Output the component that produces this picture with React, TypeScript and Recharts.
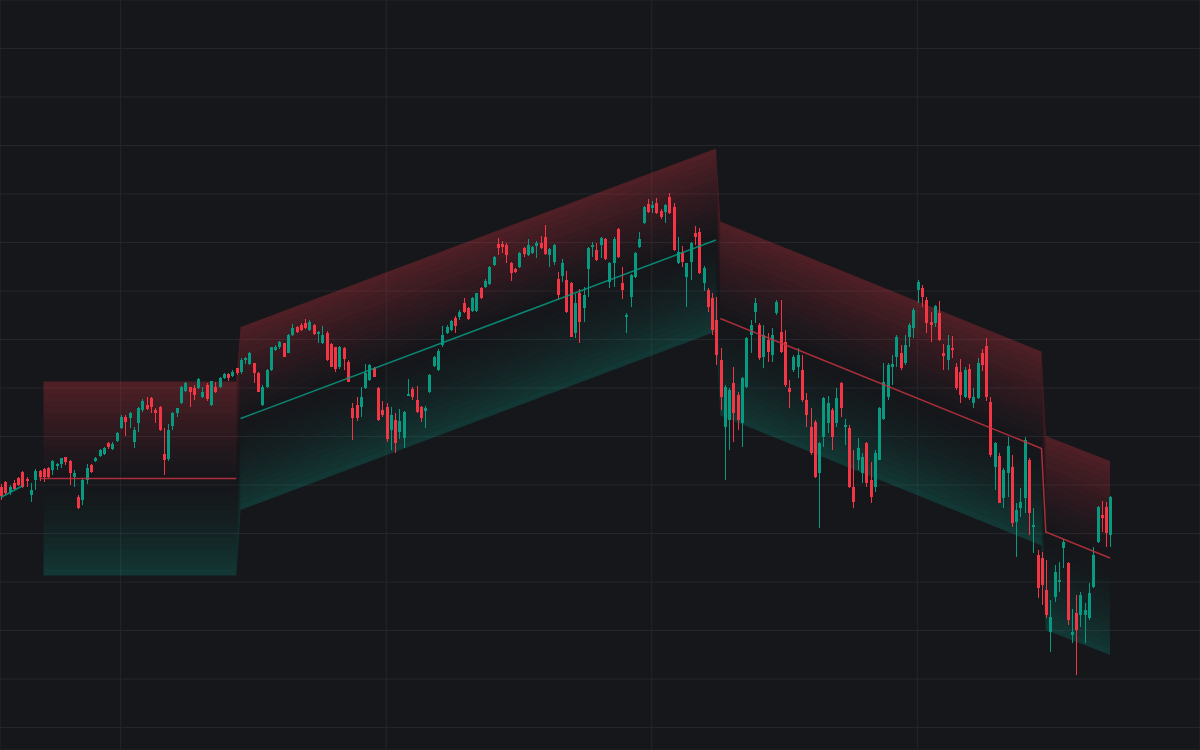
import React from 'react';
import { ComposedChart, Bar, Area, Line, XAxis, YAxis, CartesianGrid } from 'recharts';

// daily OHLC, one entry per bar (index 0 = left edge)
const opens = [
  4526, 4536, 4516, 4534, 4544, 4556, 4542, 4510, 4540, 4558,
  4562, 4564, 4560, 4568, 4572, 4586, 4578, 4546, 4506, 4500,
  4540, 4570, 4578, 4588, 4592, 4614, 4602, 4618, 4644, 4666,
  4664, 4616, 4654, 4680, 4690, 4704, 4680, 4686, 4592, 4582,
  4648, 4674, 4694, 4718, 4726, 4724, 4724, 4706, 4730, 4690,
  4726, 4726, 4744, 4752, 4748, 4764, 4756, 4780, 4772, 4774,
  4754, 4690, 4726, 4760, 4800, 4806, 4814, 4794, 4830, 4846,
  4850, 4854, 4840, 4850, 4832, 4814, 4834, 4812, 4806, 4766,
  4804, 4776, 4684, 4690, 4686, 4724, 4740, 4764, 4724, 4680,
  4686, 4640, 4660, 4636, 4624, 4708, 4722, 4700, 4686, 4678,
  4716, 4768, 4760, 4810, 4834, 4840, 4864, 4866, 4894, 4884,
  4878, 4878, 4924, 4926, 4932, 4970, 5012, 5012, 5010, 4974,
  4962, 4966, 5004, 4990, 4994, 5008, 5014, 5026, 4990, 4976,
  4942, 4948, 4940, 4934, 4834, 4914, 4884, 4962, 5006, 5000,
  5010, 5022, 4936, 4974, 5042, 4934, 4866, 4906, 4946, 5006,
  5054, 5092, 5084, 5094, 5078, 5076, 5106, 5086, 4974, 4996,
  4946, 4976, 5034, 5036, 4934, 4920, 4904, 4860, 4780, 4646,
  4660, 4734, 4710, 4654, 4726, 4830, 4876, 4850, 4786, 4820,
  4790, 4874, 4836, 4816, 4724, 4760, 4766, 4760, 4700, 4646,
  4656, 4554, 4626, 4654, 4680, 4654, 4734, 4646, 4644, 4526,
  4580, 4554, 4614, 4540, 4526, 4580, 4662, 4706, 4766, 4786,
  4794, 4774, 4826, 4844, 4920, 4924, 4900, 4856, 4854, 4874,
  4794, 4780, 4804, 4766, 4756, 4706, 4762, 4694, 4704, 4794,
  4808, 4696, 4566, 4588, 4504, 4554, 4566, 4456, 4484, 4504,
  4580, 4446, 4390, 4384, 4320, 4236, 4306, 4336, 4404, 4374,
  4230, 4274, 4270, 4270, 4264, 4326, 4416, 4470, 4486, 4430,
];

const highs = [
  4532, 4538, 4530, 4540, 4546, 4558, 4546, 4534, 4562, 4560,
  4564, 4566, 4580, 4574, 4584, 4586, 4580, 4560, 4510, 4544,
  4572, 4572, 4586, 4602, 4606, 4616, 4616, 4636, 4670, 4670,
  4676, 4646, 4686, 4702, 4706, 4706, 4684, 4688, 4644, 4652,
  4676, 4684, 4728, 4736, 4726, 4730, 4744, 4726, 4734, 4738,
  4736, 4746, 4754, 4754, 4760, 4764, 4784, 4786, 4796, 4774,
  4756, 4730, 4762, 4806, 4810, 4818, 4814, 4832, 4852, 4848,
  4854, 4862, 4860, 4852, 4838, 4848, 4838, 4814, 4806, 4808,
  4806, 4780, 4694, 4706, 4726, 4772, 4772, 4766, 4726, 4698,
  4694, 4686, 4674, 4682, 4678, 4742, 4726, 4728, 4688, 4688,
  4752, 4788, 4802, 4848, 4850, 4860, 4868, 4880, 4904, 4886,
  4906, 4914, 4926, 4942, 4968, 4988, 5024, 5018, 5014, 4976,
  4964, 4996, 5006, 5022, 5008, 5018, 5028, 5050, 5004, 5012,
  4956, 4982, 4958, 4936, 4912, 4922, 4926, 5006, 5016, 5014,
  5026, 5024, 4976, 5026, 5044, 4966, 4874, 4952, 4996, 5036,
  5088, 5102, 5098, 5104, 5082, 5092, 5114, 5094, 5026, 5008,
  4974, 5016, 5048, 5044, 4968, 4924, 4914, 4906, 4804, 4730,
  4724, 4766, 4716, 4746, 4826, 4860, 4904, 4854, 4850, 4834,
  4844, 4900, 4900, 4840, 4740, 4790, 4804, 4790, 4714, 4684,
  4660, 4616, 4706, 4708, 4684, 4724, 4736, 4662, 4650, 4600,
  4624, 4594, 4616, 4576, 4600, 4686, 4774, 4774, 4790, 4830,
  4810, 4830, 4854, 4884, 4940, 4930, 4906, 4876, 4890, 4898,
  4812, 4830, 4828, 4774, 4782, 4766, 4772, 4724, 4784, 4802,
  4824, 4706, 4616, 4594, 4564, 4626, 4590, 4494, 4524, 4626,
  4584, 4484, 4400, 4396, 4380, 4300, 4370, 4376, 4422, 4376,
  4282, 4310, 4316, 4294, 4334, 4406, 4488, 4498, 4496, 4508,
];

const lows = [
  4500, 4510, 4510, 4520, 4528, 4524, 4526, 4496, 4520, 4538,
  4536, 4544, 4550, 4560, 4564, 4570, 4530, 4526, 4482, 4490,
  4532, 4554, 4576, 4586, 4590, 4602, 4600, 4616, 4642, 4628,
  4644, 4604, 4636, 4676, 4680, 4674, 4654, 4638, 4550, 4578,
  4640, 4666, 4692, 4716, 4686, 4700, 4722, 4704, 4698, 4688,
  4714, 4724, 4742, 4738, 4746, 4750, 4752, 4772, 4770, 4734,
  4716, 4688, 4724, 4758, 4798, 4802, 4786, 4794, 4828, 4834,
  4838, 4842, 4838, 4830, 4814, 4812, 4778, 4766, 4756, 4762,
  4760, 4736, 4620, 4658, 4666, 4722, 4738, 4746, 4658, 4666,
  4616, 4600, 4594, 4622, 4604, 4708, 4700, 4674, 4656, 4644,
  4714, 4766, 4758, 4806, 4832, 4838, 4834, 4860, 4874, 4860,
  4876, 4876, 4902, 4924, 4930, 4968, 4990, 4994, 4974, 4938,
  4954, 4964, 4986, 4988, 4992, 4984, 5002, 4990, 4966, 4970,
  4900, 4936, 4874, 4826, 4824, 4814, 4856, 4906, 4986, 4978,
  4984, 4980, 4924, 4926, 4984, 4902, 4834, 4886, 4944, 5004,
  5052, 5074, 5074, 5072, 5062, 5054, 5072, 4998, 4972, 4966,
  4886, 4940, 5010, 4952, 4918, 4876, 4830, 4770, 4680, 4540,
  4600, 4616, 4640, 4606, 4724, 4794, 4854, 4780, 4764, 4776,
  4776, 4870, 4794, 4726, 4684, 4756, 4744, 4696, 4646, 4590,
  4544, 4444, 4606, 4634, 4600, 4646, 4666, 4610, 4524, 4484,
  4560, 4534, 4526, 4494, 4516, 4580, 4660, 4700, 4730, 4766,
  4760, 4770, 4806, 4824, 4894, 4886, 4834, 4816, 4846, 4818,
  4760, 4760, 4784, 4720, 4694, 4704, 4700, 4684, 4702, 4758,
  4698, 4586, 4520, 4494, 4484, 4506, 4446, 4386, 4466, 4474,
  4430, 4394, 4304, 4290, 4264, 4196, 4296, 4316, 4364, 4250,
  4214, 4150, 4246, 4214, 4260, 4324, 4414, 4436, 4406, 4406,
];

const closes = [
  4508, 4514, 4526, 4522, 4530, 4526, 4538, 4520, 4558, 4546,
  4546, 4546, 4578, 4572, 4584, 4576, 4554, 4554, 4484, 4540,
  4564, 4556, 4584, 4600, 4604, 4606, 4612, 4634, 4666, 4656,
  4674, 4640, 4684, 4698, 4682, 4686, 4674, 4640, 4580, 4640,
  4674, 4684, 4726, 4734, 4716, 4710, 4742, 4716, 4702, 4738,
  4716, 4744, 4752, 4744, 4756, 4754, 4780, 4784, 4794, 4754,
  4716, 4726, 4760, 4806, 4806, 4816, 4786, 4830, 4844, 4836,
  4840, 4844, 4856, 4832, 4836, 4830, 4780, 4766, 4762, 4806,
  4782, 4736, 4664, 4664, 4706, 4754, 4770, 4746, 4660, 4670,
  4622, 4670, 4614, 4658, 4676, 4712, 4706, 4676, 4664, 4684,
  4750, 4786, 4798, 4830, 4846, 4858, 4848, 4876, 4876, 4862,
  4904, 4914, 4904, 4938, 4966, 4986, 5004, 5006, 4990, 4954,
  4956, 4994, 4992, 5010, 5006, 5014, 5004, 4992, 5002, 5010,
  4910, 4974, 4876, 4826, 4894, 4856, 4910, 5004, 5010, 4980,
  5024, 4982, 4974, 5022, 4986, 4920, 4870, 4950, 4994, 5022,
  5086, 5076, 5090, 5074, 5066, 5090, 5074, 5000, 4996, 4976,
  4974, 5014, 5026, 4954, 4964, 4886, 4840, 4790, 4706, 4726,
  4720, 4674, 4660, 4744, 4824, 4850, 4894, 4784, 4830, 4796,
  4830, 4896, 4796, 4730, 4716, 4786, 4790, 4700, 4670, 4594,
  4546, 4614, 4704, 4694, 4626, 4704, 4684, 4650, 4526, 4496,
  4604, 4586, 4534, 4506, 4594, 4684, 4736, 4770, 4772, 4826,
  4764, 4810, 4850, 4880, 4936, 4906, 4854, 4850, 4888, 4820,
  4788, 4810, 4800, 4724, 4710, 4760, 4704, 4706, 4774, 4770,
  4706, 4590, 4614, 4494, 4560, 4608, 4454, 4480, 4496, 4620,
  4474, 4450, 4324, 4330, 4270, 4266, 4356, 4340, 4416, 4260,
  4236, 4240, 4310, 4280, 4314, 4390, 4486, 4464, 4434, 4506,
];

// regression channels: break points (bar index) with upper / lower band prices
const channelBars = [10, 55, 56, 167, 168, 243, 244, 259];
const channelUpper = [4737, 4737, 4846, 5203, 5057, 4797, 4628, 4578];
const channelLower = [4349, 4349, 4480, 4837, 4669, 4409, 4240, 4190];

// channel middle lines
const leadBars = [0, 5];
const leadMid = [4505, 4528];
const flatBars = [9, 55];
const flatMid = [4543, 4543];
const riseBars = [56, 167];
const riseMid = [4663, 5020];
const fallBars = [168, 243, 244, 259];
const fallMid = [4863, 4603, 4436, 4384];

const priceTicks = [5403, 5306, 5209, 5112, 5015, 4918, 4821, 4724, 4627, 4530, 4433, 4336, 4239, 4142, 4045];
const quarterTicks = [28, 90, 152, 214];

const UP = '#089981';
const DOWN = '#f23645';
const MID_DOWN = '#c4323e';
const BG = '#16171b';

const candles = opens.map((open, i) => ({
  i,
  open,
  high: highs[i],
  low: lows[i],
  close: closes[i],
  range: [lows[i], highs[i]],
}));

const channel = channelBars.map((i, k) => ({ i, upper: channelUpper[k], lower: channelLower[k] }));

const toLine = (bars: number[], values: number[]) => bars.map((i, k) => ({ i, v: values[k] }));

// the channel fill is split into thin bands to fake a gradient that follows the slope
const BANDS = 30;
const bands = Array.from({ length: BANDS }, (_, k) => {
  const t0 = k / BANDS;
  const t1 = (k + 1) / BANDS;
  const t = (k + 0.5) / BANDS;
  const top = t < 0.5;
  const opacity = top ? 0.27 * Math.pow(1 - t / 0.5, 1.2) : 0.26 * Math.pow((t - 0.5) / 0.5, 1.6);
  return { k, t0, t1, fill: top ? DOWN : UP, opacity };
});

const Candle = (props: any) => {
  const { x, y, width, height, payload } = props;
  if (!payload || height == null) return null;
  const { open, close, high, low } = payload;
  const color = close >= open ? UP : DOWN;
  const k = high > low ? height / (high - low) : 0;
  const bodyTop = y + (high - Math.max(open, close)) * k;
  const bodyH = Math.max(1, Math.abs(open - close) * k);
  const c = Math.round(x + width / 2);
  return (
    <g>
      <line x1={c + 0.5} x2={c + 0.5} y1={y} y2={y + height} stroke={color} strokeWidth={1} />
      <rect x={c - 1} y={bodyTop} width={3} height={bodyH} fill={color} />
    </g>
  );
};

export default function App() {
  return (
    <div style={{ position: 'fixed', left: 0, top: 0, width: 1200, height: 750, background: BG }}>
      <ComposedChart width={1200} height={750} data={candles} margin={{ top: 0, right: 0, bottom: 0, left: 0 }}>
        <CartesianGrid stroke="#25262b" strokeWidth={1} />
        <XAxis dataKey="i" type="number" domain={[-0.163, 280]} ticks={quarterTicks} allowDataOverflow hide />
        <YAxis type="number" domain={[4000, 5500]} ticks={priceTicks} allowDataOverflow hide />
        {bands.map((b) => (
          <Area
            key={b.k}
            data={channel}
            dataKey={(d: any) => [
              d.upper - (d.upper - d.lower) * b.t1,
              d.upper - (d.upper - d.lower) * b.t0,
            ]}
            type="linear"
            stroke="none"
            fill={b.fill}
            fillOpacity={b.opacity}
            dot={false}
            activeDot={false}
            isAnimationActive={false}
          />
        ))}
        <Line data={toLine(leadBars, leadMid)} dataKey="v" type="linear" stroke={UP} strokeWidth={1.5} strokeOpacity={0.85} dot={false} activeDot={false} isAnimationActive={false} />
        <Line data={toLine(flatBars, flatMid)} dataKey="v" type="linear" stroke={MID_DOWN} strokeWidth={1.5} strokeOpacity={0.85} dot={false} activeDot={false} isAnimationActive={false} />
        <Line data={toLine(riseBars, riseMid)} dataKey="v" type="linear" stroke={UP} strokeWidth={1.5} strokeOpacity={0.85} dot={false} activeDot={false} isAnimationActive={false} />
        <Line data={toLine(fallBars, fallMid)} dataKey="v" type="linear" stroke={MID_DOWN} strokeWidth={1.5} strokeOpacity={0.85} dot={false} activeDot={false} isAnimationActive={false} />
        <Bar dataKey="range" barSize={3} shape={Candle} isAnimationActive={false} />
      </ComposedChart>
    </div>
  );
}
